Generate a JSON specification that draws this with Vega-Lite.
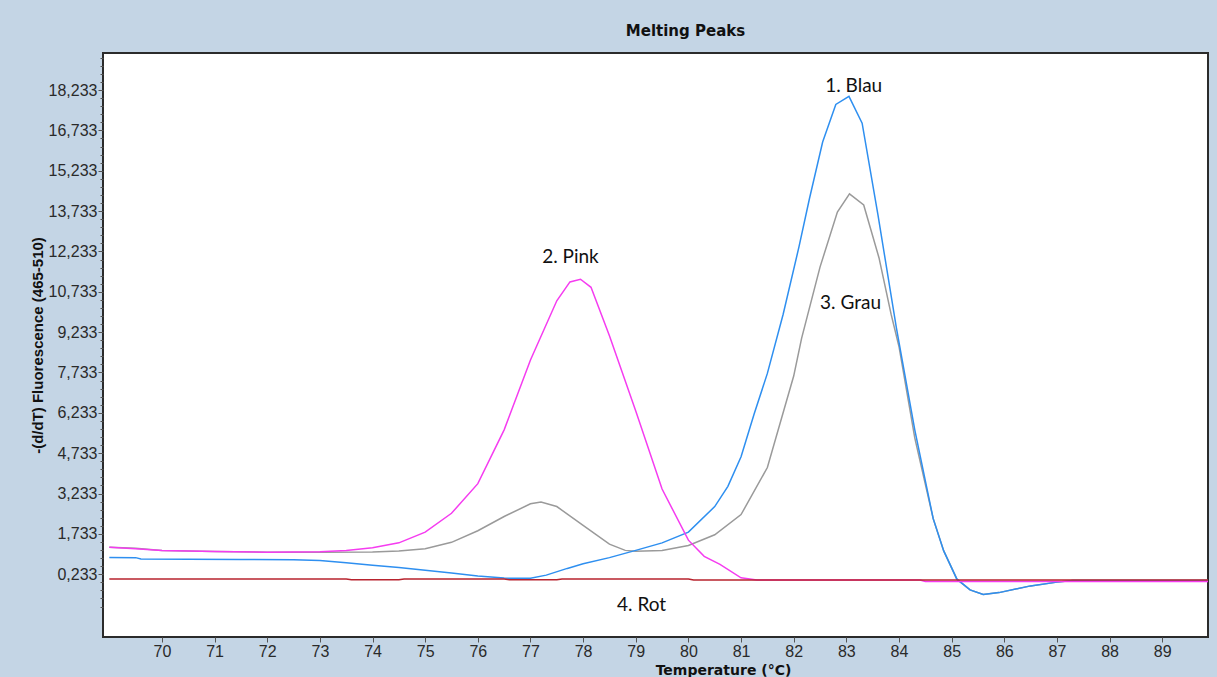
{
  "$schema": "https://vega.github.io/schema/vega-lite/v6.json",
  "autosize": {"type": "none"},
  "width": 1105,
  "height": 584,
  "padding": {"left": 103, "top": 53, "right": 9, "bottom": 40},
  "background": "#c4d5e5",
  "title": {"text": "Melting Peaks", "anchor": "middle", "frame": "group", "dx": 30, "offset": 14, "font": "DejaVu Sans", "fontSize": 15, "fontWeight": "bold", "color": "#111111"},
  "config": {
    "view": {"stroke": "#2b2b2b", "strokeWidth": 2, "fill": "white"},
    "axis": {"grid": false, "domain": false}
  },
  "datasets": {
    "curves": [
      {"s": "G", "t": 69.0, "v": 1.24}, {"s": "G", "t": 69.5, "v": 1.2}, {"s": "G", "t": 70.0, "v": 1.12}, {"s": "G", "t": 71.0, "v": 1.08}, {"s": "G", "t": 72.0, "v": 1.05}, {"s": "G", "t": 73.0, "v": 1.05}, {"s": "G", "t": 74.0, "v": 1.06}, {"s": "G", "t": 74.5, "v": 1.1}, {"s": "G", "t": 75.0, "v": 1.18}, {"s": "G", "t": 75.5, "v": 1.42}, {"s": "G", "t": 76.0, "v": 1.85}, {"s": "G", "t": 76.5, "v": 2.38}, {"s": "G", "t": 77.0, "v": 2.85}, {"s": "G", "t": 77.2, "v": 2.92}, {"s": "G", "t": 77.5, "v": 2.75}, {"s": "G", "t": 78.0, "v": 2.05}, {"s": "G", "t": 78.5, "v": 1.35}, {"s": "G", "t": 78.8, "v": 1.12}, {"s": "G", "t": 79.0, "v": 1.09}, {"s": "G", "t": 79.5, "v": 1.12}, {"s": "G", "t": 80.0, "v": 1.3}, {"s": "G", "t": 80.5, "v": 1.7}, {"s": "G", "t": 81.0, "v": 2.45}, {"s": "G", "t": 81.5, "v": 4.2}, {"s": "G", "t": 82.0, "v": 7.6}, {"s": "G", "t": 82.15, "v": 9.0}, {"s": "G", "t": 82.5, "v": 11.65}, {"s": "G", "t": 82.83, "v": 13.7}, {"s": "G", "t": 83.06, "v": 14.37}, {"s": "G", "t": 83.33, "v": 13.96}, {"s": "G", "t": 83.62, "v": 12.0}, {"s": "G", "t": 83.85, "v": 9.9}, {"s": "G", "t": 84.0, "v": 8.7}, {"s": "G", "t": 84.3, "v": 5.3}, {"s": "G", "t": 84.65, "v": 2.3}, {"s": "G", "t": 84.85, "v": 1.1}, {"s": "G", "t": 85.1, "v": 0.05}, {"s": "G", "t": 85.35, "v": -0.35}, {"s": "G", "t": 85.6, "v": -0.52}, {"s": "G", "t": 85.9, "v": -0.45}, {"s": "G", "t": 86.5, "v": -0.2}, {"s": "G", "t": 87.0, "v": -0.06}, {"s": "G", "t": 87.3, "v": 0.0}, {"s": "G", "t": 89.87, "v": 0.0},
      {"s": "B", "t": 69.0, "v": 0.86}, {"s": "B", "t": 69.5, "v": 0.85}, {"s": "B", "t": 69.6, "v": 0.8}, {"s": "B", "t": 70.5, "v": 0.79}, {"s": "B", "t": 71.5, "v": 0.78}, {"s": "B", "t": 72.5, "v": 0.77}, {"s": "B", "t": 73.0, "v": 0.74}, {"s": "B", "t": 73.5, "v": 0.66}, {"s": "B", "t": 74.0, "v": 0.57}, {"s": "B", "t": 74.5, "v": 0.48}, {"s": "B", "t": 75.0, "v": 0.38}, {"s": "B", "t": 75.5, "v": 0.28}, {"s": "B", "t": 76.0, "v": 0.17}, {"s": "B", "t": 76.5, "v": 0.09}, {"s": "B", "t": 77.0, "v": 0.08}, {"s": "B", "t": 77.3, "v": 0.2}, {"s": "B", "t": 77.7, "v": 0.45}, {"s": "B", "t": 78.0, "v": 0.62}, {"s": "B", "t": 78.5, "v": 0.85}, {"s": "B", "t": 79.0, "v": 1.12}, {"s": "B", "t": 79.5, "v": 1.4}, {"s": "B", "t": 80.0, "v": 1.8}, {"s": "B", "t": 80.5, "v": 2.75}, {"s": "B", "t": 80.75, "v": 3.5}, {"s": "B", "t": 81.0, "v": 4.6}, {"s": "B", "t": 81.25, "v": 6.2}, {"s": "B", "t": 81.5, "v": 7.7}, {"s": "B", "t": 81.8, "v": 9.9}, {"s": "B", "t": 82.1, "v": 12.4}, {"s": "B", "t": 82.3, "v": 14.2}, {"s": "B", "t": 82.55, "v": 16.3}, {"s": "B", "t": 82.8, "v": 17.7}, {"s": "B", "t": 83.05, "v": 18.0}, {"s": "B", "t": 83.3, "v": 17.0}, {"s": "B", "t": 83.6, "v": 13.6}, {"s": "B", "t": 83.95, "v": 9.4}, {"s": "B", "t": 84.3, "v": 5.6}, {"s": "B", "t": 84.65, "v": 2.3}, {"s": "B", "t": 84.85, "v": 1.1}, {"s": "B", "t": 85.1, "v": 0.05}, {"s": "B", "t": 85.35, "v": -0.35}, {"s": "B", "t": 85.6, "v": -0.52}, {"s": "B", "t": 85.9, "v": -0.45}, {"s": "B", "t": 86.5, "v": -0.2}, {"s": "B", "t": 87.0, "v": -0.06}, {"s": "B", "t": 87.3, "v": 0.0}, {"s": "B", "t": 89.87, "v": 0.0},
      {"s": "P", "t": 69.0, "v": 1.24}, {"s": "P", "t": 69.5, "v": 1.18}, {"s": "P", "t": 70.0, "v": 1.12}, {"s": "P", "t": 71.0, "v": 1.08}, {"s": "P", "t": 72.0, "v": 1.05}, {"s": "P", "t": 73.0, "v": 1.07}, {"s": "P", "t": 73.5, "v": 1.12}, {"s": "P", "t": 74.0, "v": 1.22}, {"s": "P", "t": 74.5, "v": 1.4}, {"s": "P", "t": 75.0, "v": 1.8}, {"s": "P", "t": 75.5, "v": 2.5}, {"s": "P", "t": 76.0, "v": 3.6}, {"s": "P", "t": 76.5, "v": 5.6}, {"s": "P", "t": 77.0, "v": 8.2}, {"s": "P", "t": 77.5, "v": 10.4}, {"s": "P", "t": 77.75, "v": 11.1}, {"s": "P", "t": 77.95, "v": 11.2}, {"s": "P", "t": 78.15, "v": 10.9}, {"s": "P", "t": 78.5, "v": 9.1}, {"s": "P", "t": 79.0, "v": 6.3}, {"s": "P", "t": 79.5, "v": 3.4}, {"s": "P", "t": 80.0, "v": 1.5}, {"s": "P", "t": 80.3, "v": 0.9}, {"s": "P", "t": 80.6, "v": 0.6}, {"s": "P", "t": 81.0, "v": 0.1}, {"s": "P", "t": 81.3, "v": 0.02}, {"s": "P", "t": 84.4, "v": 0.02}, {"s": "P", "t": 84.5, "v": -0.04}, {"s": "P", "t": 89.87, "v": -0.04},
      {"s": "R", "t": 69.0, "v": 0.06}, {"s": "R", "t": 73.5, "v": 0.06}, {"s": "R", "t": 73.6, "v": 0.03}, {"s": "R", "t": 74.5, "v": 0.03}, {"s": "R", "t": 74.6, "v": 0.06}, {"s": "R", "t": 76.5, "v": 0.06}, {"s": "R", "t": 76.6, "v": 0.03}, {"s": "R", "t": 77.5, "v": 0.03}, {"s": "R", "t": 77.6, "v": 0.06}, {"s": "R", "t": 80.0, "v": 0.06}, {"s": "R", "t": 80.1, "v": 0.02}, {"s": "R", "t": 89.87, "v": 0.02}
    ],
    "notes": [
      {"label": "1. Blau", "t": 83.14, "v": 18.38},
      {"label": "2. Pink", "t": 77.76, "v": 12.03},
      {"label": "3. Grau", "t": 83.08, "v": 10.32},
      {"label": "4. Rot", "t": 79.11, "v": -0.91}
    ]
  },
  "encoding": {
    "x": {
      "field": "t", "type": "quantitative",
      "scale": {"domain": [68.88, 89.87], "nice": false, "zero": false},
      "axis": {
        "title": "Temperature (°C)",
        "values": [70, 71, 72, 73, 74, 75, 76, 77, 78, 79, 80, 81, 82, 83, 84, 85, 86, 87, 88, 89],
        "format": "d",
        "tickSize": 5, "tickColor": "#555555", "tickWidth": 1,
        "labelFont": "Liberation Sans Narrow, Liberation Sans", "labelFontSize": 16, "labelColor": "#2a2a2a", "labelPadding": 1,
        "titleFont": "DejaVu Sans", "titleFontSize": 14, "titleFontWeight": "bold", "titleColor": "#111111",
        "titleX": 620, "titleY": 37, "titleAlign": "center", "titleBaseline": "alphabetic"
      }
    },
    "y": {
      "field": "v", "type": "quantitative",
      "scale": {"domain": [-2.1, 19.61], "nice": false, "zero": false},
      "axis": {
        "title": "-(d/dT) Fluorescence (465-510)",
        "values": [-0.967, -0.667, -0.367, -0.067, 0.233, 0.533, 0.833, 1.133, 1.433, 1.733, 2.033, 2.333, 2.633, 2.933, 3.233, 3.533, 3.833, 4.133, 4.433, 4.733, 5.033, 5.333, 5.633, 5.933, 6.233, 6.533, 6.833, 7.133, 7.433, 7.733, 8.033, 8.333, 8.633, 8.933, 9.233, 9.533, 9.833, 10.133, 10.433, 10.733, 11.033, 11.333, 11.633, 11.933, 12.233, 12.533, 12.833, 13.133, 13.433, 13.733, 14.033, 14.333, 14.633, 14.933, 15.233, 15.533, 15.833, 16.133, 16.433, 16.733, 17.033, 17.333, 17.633, 17.933, 18.233, 18.533, 18.833, 19.133, 19.433],
        "labelExpr": "abs((datum.value - 0.233) / 1.5 - round((datum.value - 0.233) / 1.5)) < 0.01 && datum.value > 0 ? replace(format(datum.value, '.3f'), '.', ',') : ''",
        "tickSize": {"condition": {"test": "abs((datum.value - 0.233) / 1.5 - round((datum.value - 0.233) / 1.5)) < 0.01 && datum.value > 0", "value": 5}, "value": 3},
        "tickColor": "#555555", "tickWidth": 1,
        "labelFont": "Liberation Sans Narrow, Liberation Sans", "labelFontSize": 16, "labelColor": "#2a2a2a", "labelPadding": 1,
        "titleFont": "Liberation Sans", "titleFontSize": 15, "titleFontWeight": "bold", "titleColor": "#111111",
        "titleX": -66, "titleY": 292, "titleAngle": 270, "titleAlign": "center", "titleBaseline": "middle"
      }
    }
  },
  "layer": [
    {"data": {"name": "curves"}, "transform": [{"filter": "datum.s == 'G'"}], "mark": {"type": "line", "color": "#9a9a9a", "strokeWidth": 1.5}},
    {"data": {"name": "curves"}, "transform": [{"filter": "datum.s == 'B'"}], "mark": {"type": "line", "color": "#2e8ff0", "strokeWidth": 1.5}},
    {"data": {"name": "curves"}, "transform": [{"filter": "datum.s == 'P'"}], "mark": {"type": "line", "color": "#f53cf0", "strokeWidth": 1.5}},
    {"data": {"name": "curves"}, "transform": [{"filter": "datum.s == 'R'"}], "mark": {"type": "line", "color": "#b8232e", "strokeWidth": 1.5}},
    {"data": {"name": "notes"}, "mark": {"type": "text", "font": "Lato", "fontSize": 19, "color": "#111111", "align": "center", "baseline": "middle"}, "encoding": {"text": {"field": "label"}}}
  ]
}
